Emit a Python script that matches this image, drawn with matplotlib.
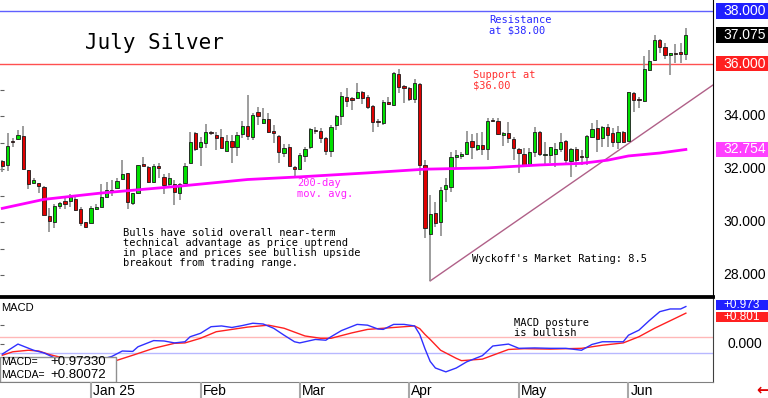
import numpy as np
import matplotlib
matplotlib.use("Agg")
import matplotlib.pyplot as plt
from matplotlib.patches import Rectangle

# daily candles, July silver (bar index 0 = early Dec 2024)
opens = [32.32, 32.17, 33.07, 33.15, 33.26, 31.98, 31.49, 31.49, 31.33, 30.24,
         30.00, 30.62, 30.81, 30.81, 30.88, 30.50, 30.01, 29.99, 30.50, 30.58,
         30.96, 31.22, 31.30, 31.64, 31.86, 30.73, 31.11, 32.20, 32.09, 31.52,
         32.13, 31.71, 31.45, 31.45, 31.11, 31.49, 32.24, 33.37, 32.84, 33.00,
         33.37, 33.30, 33.22, 32.70, 33.07, 32.84, 33.33, 33.64, 33.22, 34.17,
         33.75, 33.90, 33.45, 33.26, 32.62, 32.84, 32.09, 32.01, 32.50, 32.84,
         33.49, 33.45, 33.18, 32.70, 33.68, 34.00, 34.73, 34.69, 34.69, 34.92,
         34.73, 34.39, 33.83, 33.75, 34.54, 34.43, 35.60, 35.15, 35.07, 34.66,
         35.22, 32.17, 29.56, 30.35, 30.01, 31.26, 31.33, 32.47, 32.50, 32.58,
         33.07, 32.77, 32.92, 32.77, 33.86, 33.83, 33.30, 33.37, 33.15, 32.77,
         32.58, 32.20, 32.66, 33.41, 32.54, 32.54, 32.58, 32.77, 33.07, 32.32,
         32.77, 32.50, 32.47, 33.22, 33.56, 33.18, 33.60, 33.37, 33.03, 33.41,
         33.07, 34.88, 34.66, 34.58, 35.75, 36.13, 36.88, 36.62, 36.32, 36.39,
         36.43, 36.36]
highs = [32.35, 33.37, 33.18, 33.49, 33.64, 31.98, 31.67, 31.49, 31.37, 30.54,
         30.69, 30.77, 30.92, 31.07, 30.96, 30.58, 30.01, 30.62, 30.69, 31.45,
         31.52, 31.60, 31.67, 32.35, 31.86, 31.11, 32.17, 32.47, 32.13, 32.20,
         32.24, 31.83, 31.86, 31.60, 31.49, 32.24, 33.41, 33.41, 33.22, 33.71,
         33.45, 33.41, 33.52, 33.30, 33.30, 33.41, 33.83, 34.81, 34.13, 34.36,
         34.32, 34.13, 33.68, 33.30, 32.96, 32.96, 32.13, 32.62, 32.84, 33.56,
         33.60, 33.56, 33.22, 33.68, 34.05, 34.92, 35.07, 34.73, 35.26, 34.96,
         34.81, 34.43, 33.90, 34.62, 34.73, 35.68, 35.79, 35.19, 35.11, 35.41,
         35.26, 32.35, 31.03, 30.77, 31.33, 31.67, 32.66, 32.73, 32.66, 33.45,
         33.33, 33.37, 33.41, 33.94, 33.94, 33.94, 33.41, 33.79, 33.22, 32.81,
         32.81, 32.81, 33.60, 33.45, 33.03, 32.84, 33.00, 33.37, 33.11, 32.81,
         32.84, 32.73, 33.30, 33.75, 33.86, 33.64, 33.71, 33.56, 33.64, 33.45,
         34.92, 34.92, 34.73, 36.28, 36.51, 37.07, 36.92, 36.77, 36.39, 36.73,
         36.77, 37.34]
lows = [31.90, 31.94, 32.85, 33.11, 31.98, 31.26, 31.45, 31.11, 30.28, 29.65,
        29.77, 30.50, 30.50, 30.58, 30.43, 29.88, 29.80, 29.99, 30.46, 30.58,
        30.96, 31.00, 31.30, 31.64, 30.50, 30.65, 31.07, 32.13, 31.49, 31.49,
        31.67, 31.07, 31.33, 30.65, 30.84, 31.45, 32.24, 32.70, 32.13, 32.81,
        33.30, 32.73, 32.81, 32.70, 32.24, 32.50, 33.20, 33.11, 33.11, 33.68,
        33.71, 33.37, 33.00, 32.24, 32.47, 32.13, 31.67, 32.00, 32.28, 32.77,
        33.33, 33.00, 32.54, 32.47, 33.49, 33.68, 34.36, 34.24, 34.66, 34.47,
        34.28, 33.41, 33.60, 33.68, 34.43, 34.39, 34.88, 34.50, 34.58, 34.50,
        31.79, 29.41, 27.79, 29.84, 29.48, 30.77, 31.14, 32.00, 32.39, 32.54,
        32.39, 32.70, 32.54, 32.35, 33.79, 33.30, 32.90, 33.00, 32.35, 31.86,
        32.09, 32.09, 32.47, 32.50, 32.17, 32.24, 32.10, 32.66, 32.20, 31.71,
        32.10, 32.17, 32.17, 33.18, 32.66, 32.84, 32.84, 32.84, 32.77, 33.00,
        33.07, 34.17, 34.32, 34.54, 35.71, 36.09, 36.39, 36.17, 35.56, 36.02,
        36.02, 36.13]
closes = [32.13, 32.88, 33.03, 33.30, 32.01, 31.45, 31.60, 31.37, 30.28, 30.05,
          30.62, 30.73, 30.69, 30.96, 30.47, 29.96, 29.84, 30.54, 30.58, 30.96,
          31.22, 31.14, 31.56, 31.83, 30.77, 31.11, 32.17, 32.13, 31.52, 32.13,
          32.05, 31.41, 31.67, 31.14, 31.45, 32.13, 33.03, 32.77, 33.03, 33.41,
          33.36, 33.18, 32.81, 33.07, 32.84, 33.30, 33.64, 33.26, 34.05, 34.00,
          33.90, 33.41, 33.37, 32.66, 32.81, 32.13, 32.01, 32.54, 32.77, 33.52,
          33.45, 33.18, 32.70, 33.60, 34.00, 34.77, 34.58, 34.62, 34.92, 34.69,
          34.36, 33.79, 33.79, 34.54, 34.47, 35.64, 35.11, 35.07, 34.66, 35.26,
          32.17, 29.79, 30.31, 29.97, 31.22, 31.41, 32.47, 32.54, 32.58, 33.03,
          32.84, 32.92, 32.77, 33.83, 33.83, 33.33, 33.37, 33.18, 32.81, 32.62,
          32.13, 32.66, 33.41, 32.58, 32.58, 32.84, 32.77, 33.03, 32.35, 32.77,
          32.35, 32.47, 33.26, 33.52, 33.15, 33.60, 33.30, 33.03, 33.41, 33.03,
          34.92, 34.62, 34.62, 35.79, 36.09, 36.88, 36.62, 36.32, 36.39, 36.36,
          36.36, 37.075]

# 200-day moving average
ma_idx = [0, 8, 19, 34, 47, 57, 70, 81, 93, 103, 111, 116, 120, 126, 131]
ma_val = [30.53, 30.87, 31.11, 31.37, 31.62, 31.72, 31.87, 32.01, 32.06, 32.17,
          32.23, 32.35, 32.51, 32.62, 32.754]

# MACD (blue) and MACDA signal (red)
macd_idx = [0, 3, 6, 8, 11, 17, 21, 23, 25, 26, 29, 31, 33, 35, 36, 38, 40, 42,
            44, 46, 48, 50, 52, 54, 56, 57, 60, 62, 63, 65, 68, 70, 72, 73, 75,
            77, 79, 80, 81, 82, 83, 85, 87, 89, 92, 94, 97, 99, 102, 105, 108,
            111, 113, 115, 119, 120, 122, 124, 126, 128, 130, 131]
macd_val = [-0.26, 0.00, -0.16, -0.23, -0.42, -0.47, -0.32, -0.18, -0.19, -0.07,
            0.09, 0.08, 0.03, 0.06, 0.19, 0.28, 0.45, 0.47, 0.43, 0.48, 0.54,
            0.52, 0.41, 0.23, 0.06, 0.03, 0.12, 0.10, 0.19, 0.35, 0.51, 0.49,
            0.39, 0.38, 0.51, 0.51, 0.47, 0.25, -0.12, -0.45, -0.62, -0.72,
            -0.62, -0.46, -0.30, -0.05, 0.00, -0.11, -0.10, -0.11, -0.11, -0.16,
            -0.01, 0.06, 0.06, 0.23, 0.36, 0.61, 0.84, 0.91, 0.91, 0.973]
sig_idx = [0, 2, 5, 7, 9, 15, 20, 22, 25, 29, 33, 35, 38, 41, 44, 47, 51, 54, 58,
           61, 63, 67, 70, 73, 79, 80, 81, 82, 84, 87, 88, 92, 95, 97, 100, 105,
           111, 115, 119, 122, 125, 129, 131]
sig_val = [-0.29, -0.20, -0.16, -0.18, -0.27, -0.47, -0.49, -0.42, -0.29, -0.11,
           0.02, 0.03, 0.15, 0.32, 0.38, 0.44, 0.49, 0.41, 0.21, 0.15, 0.15,
           0.29, 0.38, 0.41, 0.47, 0.40, 0.25, 0.12, -0.16, -0.37, -0.43, -0.39,
           -0.24, -0.14, -0.12, -0.13, -0.11, -0.03, 0.03, 0.19, 0.41, 0.67,
           0.801]

month_idx = [17, 38, 57, 78, 99, 120]
month_lab = ["Jan 25", "Feb", "Mar", "Apr", "May", "Jun"]

mono = "DejaVu Sans Mono"
sans = "Liberation Sans"

W, H = 768, 398
fig = plt.figure(figsize=(W / 100, H / 100), dpi=100)
ax = fig.add_axes([0, 1 - 296 / H, 713 / W, 296 / H])
ax2 = fig.add_axes([0, 16.5 / H, 713 / W, (381.5 - 297) / H])
ax3 = fig.add_axes([0, 0, 713 / W, 16.5 / H])

xlim = (-0.44, 136.2)
o = np.array(opens)
h = np.array(highs)
l = np.array(lows)
c = np.array(closes)
x = np.arange(len(c))
up = c >= o

# candles
ax.vlines(x, l, h, color="#8c8c8c", lw=1.2, zorder=2)
bot = np.minimum(o, c)
bh = np.maximum(np.abs(c - o), 0.05)
ax.bar(x[up], bh[up], bottom=bot[up], width=0.62, color="#00e000",
       edgecolor="#1a1a1a", lw=0.6, zorder=3)
ax.bar(x[~up], bh[~up], bottom=bot[~up], width=0.62, color="#e00000",
       edgecolor="#1a1a1a", lw=0.6, zorder=3)

ax.plot(ma_idx, ma_val, color="#ff00ff", lw=2, zorder=4)
ax.axhline(38, color="#6060ff", lw=1, zorder=1)
ax.axhline(36, color="#ff5050", lw=1, zorder=1)
ax.plot([82, 136.2], [27.79, 35.19], color="#b06088", lw=1, zorder=1)

ax.set_xlim(*xlim)
ax.set_ylim(27.22, 38.40)
for s in ["top", "left"]:
    ax.spines[s].set_visible(False)
ax.spines["right"].set_color("black")
ax.spines["bottom"].set_linewidth(2)
ax.set_xticks([])
ax.set_yticks(range(28, 36))
ax.tick_params(axis="y", direction="in", length=3, color="#606060",
               labelleft=False)

# right price labels
ytr = ax.get_yaxis_transform()
for v in [34, 32, 30, 28]:
    ax.text(1.014, v, f"{v:.3f}", transform=ytr, ha="left", va="center",
            fontsize=10, family=sans, color="black")


def right_box(a, y, txt, bg, bh_, fs=10, fg="white"):
    t = a.get_yaxis_transform()
    a.add_patch(Rectangle((1.004, y - bh_ / 2), 0.073, bh_, transform=t,
                          clip_on=False, facecolor=bg, edgecolor="none"))
    a.text(1.014, y, txt, transform=t, ha="left", va="center", fontsize=fs,
           family=sans, color=fg, clip_on=False)


right_box(ax, 38, "38.000", "#2020ff", 0.6)
right_box(ax, 37.075, "37.075", "#000000", 0.6)
right_box(ax, 36, "36.000", "#ff2020", 0.6)
right_box(ax, 32.754, "32.754", "#ff40ff", 0.6)

# annotations
T = ax.transAxes
ax.text(85 / 713, 1 - 43 / 296, "July Silver", transform=T, fontsize=15,
        family=mono, va="center", ha="left")
ax.text(489 / 713, 1 - 25 / 296, "Resistance\nat $38.00", transform=T,
        fontsize=7.5, family=mono, color="#2828ff", va="center",
        linespacing=1.05)
ax.text(473 / 713, 1 - 80.5 / 296, "Support at\n$36.00", transform=T,
        fontsize=7.5, family=mono, color="#ff3030", va="center",
        linespacing=1.05)
ax.text(297 / 713, 1 - 188.5 / 296, "200-day\nmov. avg.", transform=T,
        fontsize=7.5, family=mono, color="#ff20ff", va="center",
        linespacing=1.05)
ax.text(123 / 713, 1 - 248 / 296,
        "Bulls have solid overall near-term\n"
        "technical advantage as price uptrend\n"
        "in place and prices see bullish upside\n"
        "breakout from trading range.", transform=T, fontsize=7.5,
        family=mono, va="center", linespacing=1.0)
ax.text(472 / 713, 1 - 259 / 296, "Wyckoff's Market Rating: 8.5", transform=T,
        fontsize=7.5, family=mono, va="center")

# MACD panel
ax2.plot(sig_idx, sig_val, color="#ff2020", lw=1, zorder=3)
ax2.plot(macd_idx, macd_val, color="#3030ff", lw=1, zorder=4)
ax2.axhline(0.18, color="#ffb8b8", lw=1, zorder=1)
ax2.axhline(-0.23, color="#b8b8ff", lw=1, zorder=1)
ax2.set_xlim(*xlim)
ax2.set_ylim(-0.97, 1.22)
ax2.set_xticks([])
ax2.set_yticks([-0.5, 0.0, 0.5])
ax2.tick_params(axis="y", direction="in", length=3, color="#606060",
                labelleft=False)
ax2.spines["left"].set_visible(False)
ax2.spines["top"].set_linewidth(2)
ax2.spines["right"].set_color("#404040")
ax2.spines["bottom"].set_color("#808080")

ax2.text(0.002, 0.93, "MACD", transform=ax2.transAxes, fontsize=8,
         family=sans, va="top")
ax2.text(514 / 713, 0.63, "MACD posture\nis bullish", transform=ax2.transAxes,
         fontsize=7.5, family=mono, va="center", linespacing=1.0)
ax2.add_patch(Rectangle((0, 0), 116 / 713, 24.8 / 84.5,
                        transform=ax2.transAxes, facecolor="white",
                        edgecolor="#909090", lw=1, zorder=6))
row1 = 1 - (362.3 - 297) / 84.5
row2 = 1 - (375 - 297) / 84.5
ax2.text(0.001, row1, "MACD=", transform=ax2.transAxes, fontsize=7.5,
         family=sans, va="center", zorder=7)
ax2.text(50 / 713, row1, "+0.97330", transform=ax2.transAxes, fontsize=9.5,
         family=sans, va="center", zorder=7)
ax2.text(0.001, row2, "MACDA=", transform=ax2.transAxes, fontsize=7.5,
         family=sans, va="center", zorder=7)
ax2.text(50 / 713, row2, "+0.80072", transform=ax2.transAxes, fontsize=9.5,
         family=sans, va="center", zorder=7)

right_box(ax2, 0.70, "+0.801", "#ff2020", 0.27, fs=8.5)
right_box(ax2, 1.01, "+0.973", "#2020ff", 0.27, fs=8.5)
ax2.text(1.02, 0.0, "0.000", transform=ax2.get_yaxis_transform(),
         ha="left", va="center", fontsize=10, family=sans)

# month strip
ax3.set_xlim(*xlim)
ax3.set_ylim(0, 1)
ax3.axis("off")
ax3.vlines(month_idx, 0, 1, color="#a8a8a8", lw=1.5)
for mi, ml in zip(month_idx, month_lab):
    ax3.text(mi + 0.35, 0.45, ml, fontsize=10, family=sans, va="center",
             ha="left")
fig.text(763 / W, 8.5 / H, "\u2190", color="#e00000", fontsize=11,
         fontweight="bold", ha="center", va="center", family="DejaVu Sans")

fig.savefig("out.png", dpi=100)
